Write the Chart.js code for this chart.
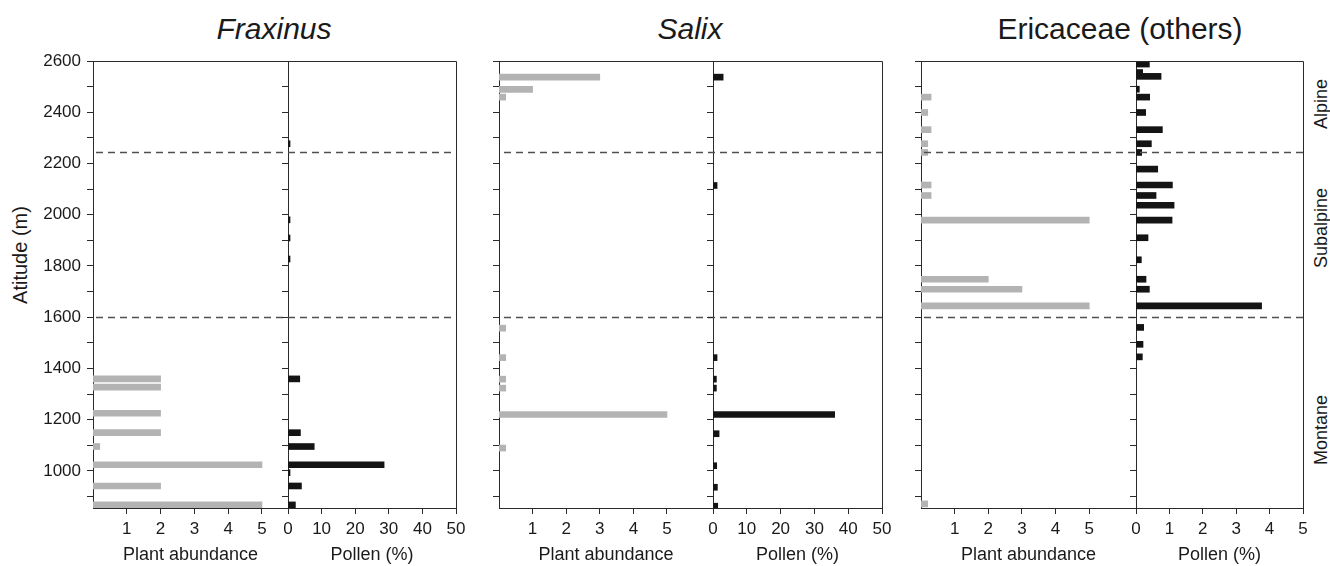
<!DOCTYPE html>
<html>
<head>
<meta charset="utf-8">
<script src="https://cdn.jsdelivr.net/npm/chart.js@4.4.0/dist/chart.umd.min.js"></script>
<style>
    body { margin: 0; background: #fff; }
    #page { position: relative; width: 1330px; height: 566px; overflow: hidden; font-family: "Liberation Sans", Arial, sans-serif; color: #1a1a1a; }
    #page canvas { position: absolute; top: 0; }
    .title { position: absolute; top: 12px; font-size: 30px; line-height: 34px; white-space: nowrap; transform: translateX(-50%); }
    .vlabel { position: absolute; font-size: 18px; line-height: 20px; white-space: nowrap; transform: translate(-50%, -50%) rotate(-90deg); }
</style>
</head>
<body>
<div id="page">
    <div class="title" style="left:274px; font-style:italic">Fraxinus</div>
    <div class="title" style="left:690px; font-style:italic">Salix</div>
    <div class="title" style="left:1120px">Ericaceae (others)</div>
    <div class="vlabel" style="left:20px; top:255px; font-size:20px">Atitude (m)</div>
    <div class="vlabel" style="left:1321px; top:104px">Alpine</div>
    <div class="vlabel" style="left:1321px; top:228px">Subalpine</div>
    <div class="vlabel" style="left:1321px; top:430px">Montane</div>
    <canvas id="c1"></canvas>
    <canvas id="c2"></canvas>
    <canvas id="c3"></canvas>
    <canvas id="c4"></canvas>
    <canvas id="c5"></canvas>
    <canvas id="c6"></canvas>
</div>
<script>
// altitude range (m) and vegetation belt limits
const altMin = 855;
const altMax = 2600;
const zoneBounds = [2243, 1600];

// Fraxinus
const fraxinusPlantAlt = [1359, 1327, 1225, 1149, 1095, 1024, 941, 867];
const fraxinusPlantVal = [2, 2, 2, 2, 0.2, 5, 2, 5];
const fraxinusPollenAlt = [2277, 1980, 1909, 1827, 1359, 1149, 1095, 1024, 993, 941, 867];
const fraxinusPollenVal = [0.6, 0.6, 0.6, 0.6, 3.5, 3.7, 7.8, 28.6, 0.6, 4.0, 2.2];

// Salix
const salixPlantAlt = [2537, 2489, 2459, 1557, 1442, 1358, 1323, 1220, 1089];
const salixPlantVal = [3, 1, 0.2, 0.2, 0.2, 0.2, 0.2, 5, 0.2];
const salixPollenAlt = [2537, 2114, 1442, 1358, 1323, 1220, 1145, 1020, 936, 862];
const salixPollenVal = [3, 1.2, 1.2, 1.0, 1.0, 36, 1.8, 1.1, 1.3, 1.4];

// Ericaceae (others)
const ericPlantAlt = [2459, 2399, 2332, 2277, 2243, 2116, 2075, 1979, 1748, 1709, 1644, 871];
const ericPlantVal = [0.3, 0.2, 0.3, 0.2, 0.2, 0.3, 0.3, 5, 2, 3, 5, 0.2];
const ericPollenAlt = [2588, 2555, 2540, 2490, 2459, 2399, 2332, 2277, 2243, 2178, 2116, 2075, 2037, 1979, 1910, 1824, 1748, 1709, 1644, 1560, 1494, 1445];
const ericPollenVal = [0.4, 0.2, 0.75, 0.1, 0.41, 0.29, 0.79, 0.46, 0.17, 0.65, 1.09, 0.6, 1.14, 1.08, 0.36, 0.16, 0.3, 0.4, 3.76, 0.23, 0.21, 0.19];

const gray = '#b3b3b3';
const black = '#141414';
const axisColor = '#2a2a2a';
const textColor = '#1a1a1a';

Chart.defaults.font.family = '"Liberation Sans", Arial, sans-serif';
Chart.defaults.color = textColor;

// position of each sub plot on the page
const subplots = [
    { id: 'c1', left: 0,    yW: 93, plotW: 195, alt: fraxinusPlantAlt, val: fraxinusPlantVal, color: gray,  xMax: 5.77, step: 1,  plant: true,  yLabels: true },
    { id: 'c2', left: 248,  yW: 40, plotW: 168, alt: fraxinusPollenAlt, val: fraxinusPollenVal, color: black, xMax: 50,  step: 10, plant: false },
    { id: 'c3', left: 459,  yW: 40, plotW: 214, alt: salixPlantAlt,    val: salixPlantVal,    color: gray,  xMax: 6.37, step: 1,  plant: true },
    { id: 'c4', left: 673,  yW: 40, plotW: 169, alt: salixPollenAlt,   val: salixPollenVal,   color: black, xMax: 50,  step: 10, plant: false },
    { id: 'c5', left: 881,  yW: 40, plotW: 215, alt: ericPlantAlt,     val: ericPlantVal,     color: gray,  xMax: 6.39, step: 1,  plant: true },
    { id: 'c6', left: 1096, yW: 40, plotW: 167, alt: ericPollenAlt,    val: ericPollenVal,    color: black, xMax: 5,   step: 1,  plant: false }
];

const padRight = 16;
const padTop = 61;
const xAxisH = 58;

function framePlugin(canvasLeft, plant) {
    return {
        id: 'frame',
        afterDatasetsDraw(chart) {
            const { ctx, chartArea: a, scales: { y } } = chart;
            ctx.save();
            // dashed belt limits
            ctx.strokeStyle = '#505050';
            ctx.lineWidth = 1.6;
            ctx.setLineDash([7, 5]);
            ctx.lineDashOffset = (canvasLeft + a.left) % 12;
            zoneBounds.forEach(v => {
                const py = Math.round(y.getPixelForValue(v)) + 0.5;
                ctx.beginPath();
                ctx.moveTo(a.left, py);
                ctx.lineTo(a.right, py);
                ctx.stroke();
            });
            ctx.setLineDash([]);
            // top edge, and right edge for the pollen side
            ctx.strokeStyle = axisColor;
            ctx.lineWidth = 1;
            ctx.beginPath();
            ctx.moveTo(a.left, a.top + 0.5);
            ctx.lineTo(a.right + 0.5, a.top + 0.5);
            if (!plant) ctx.lineTo(a.right + 0.5, a.bottom);
            ctx.stroke();
            ctx.restore();
        }
    };
}

subplots.forEach(s => {
    const canvas = document.getElementById(s.id);
    canvas.width = s.yW + s.plotW + padRight;
    canvas.height = 566;
    canvas.style.left = s.left + 'px';

    new Chart(canvas.getContext('2d'), {
        type: 'bar',
        data: {
            datasets: [{
                data: s.alt.map((a, i) => ({ x: s.val[i], y: a })),
                backgroundColor: s.color,
                borderWidth: 0,
                barThickness: 6
            }]
        },
        options: {
            indexAxis: 'y',
            responsive: false,
            animation: false,
            layout: { padding: { top: padTop, right: padRight, left: 0, bottom: 0 } },
            plugins: { legend: { display: false }, tooltip: { enabled: false } },
            scales: {
                y: {
                    type: 'linear',
                    min: altMin,
                    max: altMax,
                    offset: false,
                    afterFit: scale => { scale.width = s.yW; },
                    grid: { offset: false, drawOnChartArea: false, drawTicks: true, tickLength: 6, tickColor: axisColor, tickWidth: 1 },
                    border: { display: true, color: axisColor, width: 1 },
                    ticks: {
                        stepSize: 100,
                        includeBounds: false,
                        autoSkip: false,
                        padding: 6,
                        font: { size: 17 },
                        color: textColor,
                        callback: v => (s.yLabels && v % 200 === 0) ? String(v) : ''
                    }
                },
                x: {
                    type: 'linear',
                    min: 0,
                    max: s.xMax,
                    afterFit: scale => { scale.height = xAxisH; },
                    afterBuildTicks: scale => {
                        if (s.plant) scale.ticks = scale.ticks.filter(t => t.value > 0 && t.value <= 5);
                    },
                    grid: { drawOnChartArea: false, drawTicks: true, tickLength: 6, tickColor: axisColor, tickWidth: 1 },
                    border: { display: true, color: axisColor, width: 1 },
                    ticks: {
                        stepSize: s.step,
                        includeBounds: false,
                        autoSkip: false,
                        maxRotation: 0,
                        padding: 5,
                        font: { size: 17 },
                        color: textColor
                    },
                    title: {
                        display: true,
                        text: s.plant ? 'Plant abundance' : 'Pollen (%)',
                        font: { size: 18 },
                        color: textColor,
                        padding: { top: 0, bottom: 0 }
                    }
                }
            }
        },
        plugins: [framePlugin(s.left, s.plant)]
    });
});
</script>
</body>
</html>
